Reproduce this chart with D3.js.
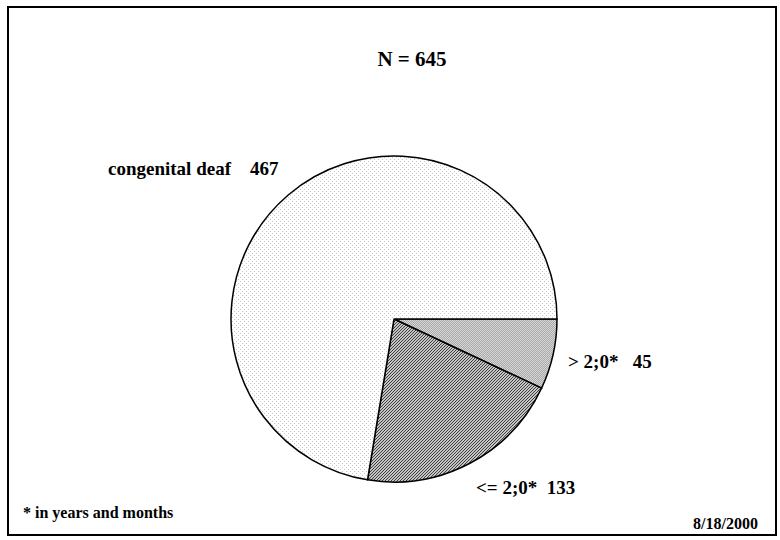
<!DOCTYPE html>
<html>
<head>
<meta charset="utf-8">
<script src="https://cdn.jsdelivr.net/npm/d3@7"></script>
<style>
  html, body { margin: 0; padding: 0; background: #fff; }
  svg { display: block; }
  text { font-family: "Liberation Serif", "Times New Roman", serif; font-weight: bold; fill: #000; }
</style>
</head>
<body>
<svg id="chart" width="780" height="540"></svg>
<script>
// Patients by onset of deafness
const categories = ["> 2;0*", "<= 2;0*", "congenital deaf"];
const values = [45, 133, 467];
const labelTexts = ["> 2;0*   45", "<= 2;0*  133", "congenital deaf    467"];
const total = 645;

const svg = d3.select("#chart");

// fill patterns
const defs = svg.append("defs");
const dots = defs.append("pattern").attr("id", "pDots")
  .attr("patternUnits", "userSpaceOnUse").attr("width", 4).attr("height", 4);
dots.append("rect").attr("width", 4).attr("height", 4).attr("fill", "#fff");
dots.append("rect").attr("x", 0).attr("y", 0).attr("width", 1).attr("height", 1).attr("fill", "#c8c8c8");
dots.append("rect").attr("x", 2).attr("y", 2).attr("width", 1).attr("height", 1).attr("fill", "#c8c8c8");

const checker = defs.append("pattern").attr("id", "pChecker")
  .attr("patternUnits", "userSpaceOnUse").attr("width", 2).attr("height", 2);
checker.append("rect").attr("width", 2).attr("height", 2).attr("fill", "#d8d8d8");
checker.append("rect").attr("x", 0).attr("y", 0).attr("width", 1).attr("height", 1).attr("fill", "#a8a8a8");
checker.append("rect").attr("x", 1).attr("y", 1).attr("width", 1).attr("height", 1).attr("fill", "#a8a8a8");

const hatch = defs.append("pattern").attr("id", "pHatch")
  .attr("patternUnits", "userSpaceOnUse").attr("width", 3).attr("height", 3);
hatch.append("rect").attr("width", 3).attr("height", 3).attr("fill", "#fff");
hatch.append("path").attr("d", "M0,3 L3,0 M-1,1 L1,-1 M2,4 L4,2")
  .attr("stroke", "#333").attr("stroke-width", 1.1);

const fills = ["url(#pChecker)", "url(#pHatch)", "url(#pDots)"];

// outer frame
svg.append("rect").attr("x", 8).attr("y", 7).attr("width", 768).attr("height", 528)
  .attr("fill", "#fff").attr("stroke", "#000").attr("stroke-width", 2);

// title
svg.append("text").attr("x", 412).attr("y", 66).attr("text-anchor", "middle")
  .attr("font-size", 21).text("N = " + total);

// pie
const cx = 394, cy = 319, r = 163;
const pie = d3.pie().sort(null)
  .startAngle(Math.PI / 2).endAngle(Math.PI / 2 + 2 * Math.PI);
const arc = d3.arc().innerRadius(0).outerRadius(r);
const g = svg.append("g").attr("transform", `translate(${cx},${cy})`);
g.selectAll("path").data(pie(values)).join("path")
  .attr("d", arc)
  .attr("fill", (d, i) => fills[i])
  .attr("stroke", "#000").attr("stroke-width", 1.5)
  .attr("stroke-linejoin", "round");

// slice labels
const labelPos = [
  { x: 568, y: 368 },
  { x: 476, y: 494 },
  { x: 108, y: 175 }
];
svg.selectAll("text.slice").data(labelTexts).join("text")
  .attr("class", "slice")
  .attr("x", (d, i) => labelPos[i].x)
  .attr("y", (d, i) => labelPos[i].y)
  .attr("font-size", 19)
  .style("white-space", "pre")
  .text(d => d);

// footnote and date
svg.append("text").attr("x", 23).attr("y", 518).attr("font-size", 16)
  .text("* in years and months");
svg.append("text").attr("x", 758).attr("y", 529).attr("text-anchor", "end")
  .attr("font-size", 16).text("8/18/2000");
</script>
</body>
</html>
